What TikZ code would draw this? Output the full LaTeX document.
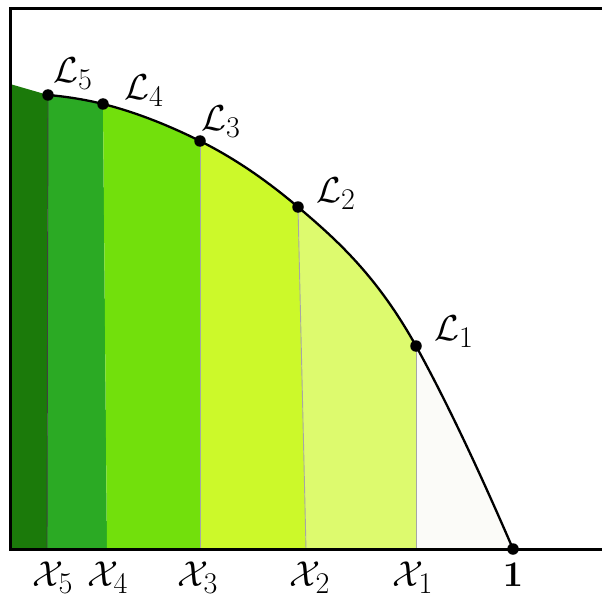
\documentclass[tikz,border=0pt]{standalone}
\usetikzlibrary{positioning}
\definecolor{grA}{HTML}{1B7A0A}
\definecolor{grB}{HTML}{2BAA24}
\definecolor{grC}{HTML}{72E00C}
\definecolor{grD}{HTML}{CCF92A}
\definecolor{grE}{HTML}{DDFA6E}
\definecolor{grF}{HTML}{FBFBF8}
\tikzset{
  frame/.style ={line width=3pt, line cap=rect},
  curve/.style ={line width=2.3pt},
  dot/.style   ={circle, fill=black, inner sep=0pt, minimum size=11.5pt},
  lab/.style   ={font=\Huge, scale=1.45, transform shape, inner sep=1pt},
  cut/.style   ={draw=black!35, line width=0.9pt}
}

\begin{document}
\begin{tikzpicture}[x=1pt,y=-1pt]
  \useasboundingbox (0,0) rectangle (602,599);

  % points on the curve and the feet of the cuts
  \coordinate (L5) at (48,95);
  \coordinate (L4) at (103,104);
  \coordinate (L3) at (200,141);
  \coordinate (L2) at (298,207);
  \coordinate (L1) at (416,346);
  \coordinate (E)  at (513,549);
  \coordinate (X5) at (47,549);
  \coordinate (X4) at (107,549);
  \coordinate (X3) at (200,549);
  \coordinate (X2) at (306,549);
  \coordinate (X1) at (416,549);

  \def\arc{(L5) .. controls +(18,1.5) and +(-18,-4.5) .. (L4)
    .. controls +(32,8) and +(-32,-16) .. (L3)
    .. controls +(33,16.5) and +(-33,-28) .. (L2)
    .. controls +(39,33) and +(-39,-70) .. (L1)
    .. controls +(32,58) and +(-32,-74) .. (E)}

  \begin{scope}
    \clip (10,549) -- (10,84) -- \arc -- cycle;
    \fill[grA] (10,549) -- (10,40) -| (L5) -- (X5) -- cycle;
    \fill[grB] (X5) -- (L5) -- ++(0,-60) -| (L4) -- (X4) -- cycle;
    \fill[grC] (X4) -- (L4) -- ++(0,-60) -| (L3) -- (X3) -- cycle;
    \fill[grD] (X3) -- (L3) -- ++(0,-60) -| (L2) -- (X2) -- cycle;
    \fill[grE] (X2) -- (L2) -- ++(0,-60) -| (L1) -- (X1) -- cycle;
    \fill[grF, draw=grE, line width=2pt] (X1) -- (L1) -- ++(0,-60) -| (E) -- cycle;
    \draw[black!75, line width=0.9pt] (L5) -- (X5);
    \draw[cut] (L3) -- (X3);
    \draw[cut] (L2) -- (X2);
    \draw[cut] (L1) -- (X1);
  \end{scope}

  \draw[curve] \arc;
  \draw[frame] (602,9) -- (10,9) -- (10,549) -- (602,549);

  \node[dot] (d5) at (L5) {};
  \node[dot] (d4) at (L4) {};
  \node[dot] (d3) at (L3) {};
  \node[dot] (d2) at (L2) {};
  \node[dot] (d1) at (L1) {};
  \node[dot] (d0) at (E)  {};

  \node[lab] (l5) at (73,74)   {$\mathcal{L}_5$};
  \node[lab] (l4) at (144,91)  {$\mathcal{L}_4$};
  \node[lab] (l3) at (221,122) {$\mathcal{L}_3$};
  \node[lab] (l2) at (336,194) {$\mathcal{L}_2$};
  \node[lab] (l1) at (454,332) {$\mathcal{L}_1$};

  \node[lab] (x5) at (53,578)  {$\mathcal{X}_5$};
  \node[lab] (x4) at (108,578) {$\mathcal{X}_4$};
  \node[lab] (x3) at (198,578) {$\mathcal{X}_3$};
  \node[lab] (x2) at (310,578) {$\mathcal{X}_2$};
  \node[lab] (x1) at (413,578) {$\mathcal{X}_1$};
  \node[lab] (one) at (513,575) {$\mathbf{1}$};
\end{tikzpicture}
\end{document}
